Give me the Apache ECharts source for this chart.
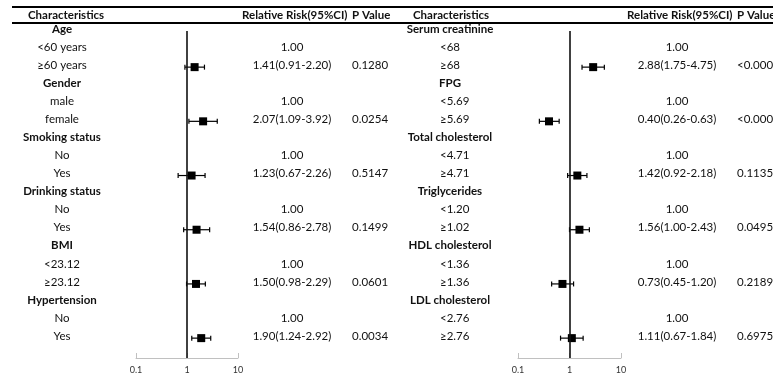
<!DOCTYPE html>
<html><head><meta charset="utf-8">
<script src="https://cdn.jsdelivr.net/npm/echarts@6/dist/echarts.min.js"></script>
<style>html,body{margin:0;padding:0;background:#fff}#c{width:773px;height:379px}</style>
</head><body><div id="c"></div>
<script>
// ---- data ----
const leftGroups = ['Age','Gender','Smoking status','Drinking status','BMI','Hypertension'];
const leftRefLevels = ['<60 years','male','No','No','<23.12','No'];
const leftCmpLevels = ['≥60 years','female','Yes','Yes','≥23.12','Yes'];
const leftRR   = [1.41,2.07,1.23,1.54,1.50,1.90];
const leftLow  = [0.91,1.09,0.67,0.86,0.98,1.24];
const leftHigh = [2.20,3.92,2.26,2.78,2.29,2.92];
const leftP    = ['0.1280','0.0254','0.5147','0.1499','0.0601','0.0034'];

const rightGroups = ['Serum creatinine','FPG','Total cholesterol','Triglycerides','HDL cholesterol','LDL cholesterol'];
const rightRefLevels = ['<68','<5.69','<4.71','<1.20','<1.36','<2.76'];
const rightCmpLevels = ['≥68','≥5.69','≥4.71','≥1.02','≥1.36','≥2.76'];
const rightRR   = [2.88,0.40,1.42,1.56,0.73,1.11];
const rightLow  = [1.75,0.26,0.92,1.00,0.45,0.67];
const rightHigh = [4.75,0.63,2.18,2.43,1.20,1.84];
const rightP    = ['<0.0001','<0.0001','0.1135','0.0495','0.2189','0.6975'];

const axisTicks = [0.1, 1, 10];
const headers = ['Characteristics','Relative Risk(95%CI)','P Value'];

// ---- build ----
const FONT = 'Lato, "Liberation Sans", sans-serif';
const f2 = v => v.toFixed(2);

function buildRows(groups, refs, cmps, rr, lo, hi, p){
  const textRows = [], markRows = [];
  groups.forEach((g,i)=>{
    const r = i*3;
    textRows.push([r, g, 1, '', '']);
    textRows.push([r+1, refs[i], 0, '1.00', '']);
    textRows.push([r+2, cmps[i], 0, f2(rr[i])+'('+f2(lo[i])+'-'+f2(hi[i])+')', p[i]]);
    markRows.push([rr[i], r+2, lo[i], hi[i]]);
  });
  return {textRows, markRows};
}
const L = buildRows(leftGroups,leftRefLevels,leftCmpLevels,leftRR,leftLow,leftHigh,leftP);
const R = buildRows(rightGroups,rightRefLevels,rightCmpLevels,rightRR,rightLow,rightHigh,rightP);

function markRender(params, api){
  const y = api.value(1);
  const c = api.coord([api.value(0), y]);
  const a = api.coord([api.value(2), y]);
  const b = api.coord([api.value(3), y]);
  const st = {stroke:'#000', lineWidth:1.2};
  const cap = 2.5, s = 8;
  return {type:'group', children:[
    {type:'line', shape:{x1:a[0],y1:c[1],x2:b[0],y2:c[1]}, style:st},
    {type:'line', shape:{x1:a[0],y1:c[1]-cap,x2:a[0],y2:c[1]+cap}, style:st},
    {type:'line', shape:{x1:b[0],y1:c[1]-cap,x2:b[0],y2:c[1]+cap}, style:st},
    {type:'rect', shape:{x:c[0]-s/2,y:c[1]-s/2,width:s,height:s}, style:{fill:'#000'}}
  ]};
}

function makeTextRender(rows, cols){
  return function(params, api){
    const row = api.value(1);
    const y = api.coord([1,row])[1] - 2;
    const d = rows[params.dataIndex];
    const isGroup = d[2] === 1;
    const children = [];
    const base = {fontFamily:FONT, fontSize:11.5, fill:'#111', textVerticalAlign:'middle'};
    if (isGroup){
      children.push({type:'text', style:Object.assign({}, base, {x:cols.groupX, y:y, text:d[1], textAlign:'center', fontWeight:'bold'})});
    } else {
      children.push({type:'text', style:Object.assign({}, base, {x:cols.levelX, y:y, text:d[1], textAlign:cols.levelAlign})});
      children.push({type:'text', style:Object.assign({}, base, {x:cols.rrX, y:y, text:d[3], textAlign:'center'})});
      if (d[4]) children.push({type:'text', style:Object.assign({}, base, {x:cols.pX, y:y, text:d[4], textAlign:'left'})});
    }
    return {type:'group', children};
  };
}

const chart = echarts.init(document.getElementById('c'), null, {renderer:'canvas'});

function makeXAxis(gi){
  return {
    type:'log', logBase:10, min:axisTicks[0], max:axisTicks[axisTicks.length-1], gridIndex:gi, position:'bottom',
    axisLine:{show:true, onZero:false, lineStyle:{color:'#c0c0c0', width:1}},
    axisTick:{show:true, inside:true, length:5, lineStyle:{color:'#c0c0c0'}},
    axisLabel:{fontFamily:FONT, fontSize:9, color:'#333', margin:8, formatter: v => String(+(+v).toPrecision(3))},
    splitLine:{show:false}, minorTick:{show:false}
  };
}
function makeYAxis(gi){
  return {type:'value', inverse:true, min:0, max:18.1, gridIndex:gi, show:false};
}

const leftCols = {groupX:62, levelX:62, levelAlign:'center', rrX:292, pX:352};
const rightCols = {groupX:450, levelX:440, levelAlign:'left', rrX:677, pX:737};

const refLine = {
  silent:true, symbol:'none', label:{show:false},
  lineStyle:{color:'#111', width:1.6, type:'solid'},
  data:[{xAxis:1}]
};

const hdr = 'bold 11.5px ' + FONT;
const option = {
  animation:false,
  backgroundColor:'#fff',
  grid:[
    {left:136, width:102, top:31, bottom:21},
    {left:518, width:103, top:31, bottom:21}
  ],
  xAxis:[makeXAxis(0), makeXAxis(1)],
  yAxis:[makeYAxis(0), makeYAxis(1)],
  graphic:[
    {type:'line', shape:{x1:12,y1:7,x2:773,y2:7}, style:{stroke:'#000', lineWidth:2}},
    {type:'line', shape:{x1:12,y1:23,x2:773,y2:23}, style:{stroke:'#000', lineWidth:2}},
    {type:'text', left:28, top:9, style:{text:headers[0], font:hdr, fill:'#111'}},
    {type:'text', left:242, top:9, style:{text:headers[1], font:hdr, fill:'#111'}},
    {type:'text', left:352, top:9, style:{text:headers[2], font:hdr, fill:'#111'}},
    {type:'text', left:413, top:9, style:{text:headers[0], font:hdr, fill:'#111'}},
    {type:'text', left:627, top:9, style:{text:headers[1], font:hdr, fill:'#111'}},
    {type:'text', left:737, top:9, style:{text:headers[2], font:hdr, fill:'#111'}}
  ],
  series:[
    {type:'custom', xAxisIndex:0, yAxisIndex:0, data:L.markRows, renderItem:markRender, clip:false, markLine:refLine, z:3},
    {type:'custom', xAxisIndex:1, yAxisIndex:1, data:R.markRows, renderItem:markRender, clip:false, markLine:refLine, z:3},
    {type:'custom', xAxisIndex:0, yAxisIndex:0, data:L.textRows.map(r=>[1,r[0]]),
      renderItem:makeTextRender(L.textRows, leftCols), clip:false, silent:true},
    {type:'custom', xAxisIndex:1, yAxisIndex:1, data:R.textRows.map(r=>[1,r[0]]),
      renderItem:makeTextRender(R.textRows, rightCols), clip:false, silent:true}
  ]
};
chart.setOption(option);
</script>
</body></html>
